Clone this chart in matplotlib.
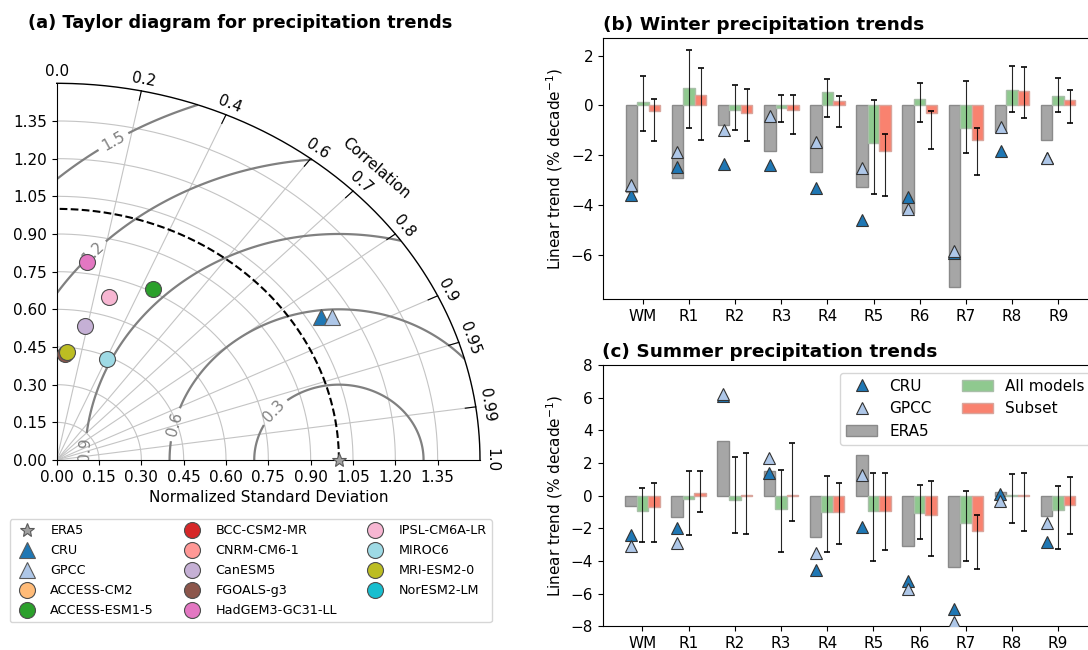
import numpy as np
import matplotlib.pyplot as plt

# ---------------- data ----------------
regions = ['WM', 'R1', 'R2', 'R3', 'R4', 'R5', 'R6', 'R7', 'R8', 'R9']

# winter trends (% per decade)
win_era5 = [-3.47, -2.93, -0.80, -1.82, -2.67, -3.29, -4.34, -7.32, -1.08, -1.39]
win_all = [0.13, 0.68, -0.20, -0.10, 0.52, -1.50, 0.24, -0.90, 0.61, 0.37]
win_sub = [-0.23, 0.41, -0.32, -0.20, 0.17, -1.84, -0.32, -1.41, 0.59, 0.20]
win_all_lo = [-1.03, -0.92, -0.99, -0.66, -0.48, -3.57, -0.68, -1.90, -0.27, -0.28]
win_all_hi = [1.20, 2.22, 0.82, 0.41, 1.08, 0.21, 0.91, 0.99, 1.59, 1.12]
win_sub_lo = [-1.42, -1.39, -1.43, -1.16, -0.87, -3.64, -1.74, -2.81, -0.50, -0.72]
win_sub_hi = [0.27, 1.50, 0.65, 0.41, 0.37, -1.16, -0.23, -0.92, 1.55, 0.61]
win_cru = [-3.60, -2.49, -2.36, -2.40, -3.33, -4.61, -3.69, -5.94, -1.84, -2.13]
win_gpcc = [-3.20, -1.86, -0.99, -0.43, -1.46, -2.53, -4.18, -5.84, -0.88, -2.13]

# summer trends (% per decade)
sum_era5 = [-0.66, -1.31, 3.34, 1.50, -2.56, 2.48, -3.09, -4.34, 0.23, -1.27]
sum_all = [-0.92, -0.20, -0.27, -0.80, -1.00, -0.96, -1.07, -1.70, 0.02, -0.86]
sum_sub = [-0.72, 0.17, 0.02, 0.02, -1.02, -0.96, -1.17, -2.17, 0.02, -0.55]
sum_all_lo = [-2.85, -2.40, -2.26, -3.42, -3.46, -4.03, -2.66, -3.99, -1.70, -3.28]
sum_all_hi = [0.45, 1.48, 2.34, 1.60, 1.23, 1.40, 0.66, 0.31, 1.35, 0.57]
sum_sub_lo = [-2.81, -1.00, -2.36, -1.54, -2.97, -3.32, -3.67, -4.48, -2.19, -2.32]
sum_sub_hi = [0.78, 1.52, 2.60, 3.22, 0.78, 1.40, 0.88, -1.17, 1.37, 1.17]
sum_cru = [-2.40, -1.99, 6.10, 1.39, -4.54, -1.95, -5.20, -6.96, 0.12, -2.81]
sum_gpcc = [-3.06, -2.91, 6.25, 2.29, -3.52, 1.29, -5.73, -7.72, -0.35, -1.68]

# Taylor diagram: normalized std and correlation
ref_std = 1.0
obs_names = ['CRU', 'GPCC']
obs_std = [1.097, 1.131]
obs_corr = [0.854, 0.863]
obs_colors = ['#1f77b4', '#aec7e8']

nan = np.nan
model_names = ['ACCESS-CM2', 'ACCESS-ESM1-5', 'BCC-CSM2-MR', 'CNRM-CM6-1', 'CanESM5',
               'FGOALS-g3', 'HadGEM3-GC31-LL', 'IPSL-CM6A-LR', 'MIROC6', 'MRI-ESM2-0',
               'NorESM2-LM']
model_std = [nan, 0.761, nan, nan, 0.543, 0.424, 0.797, 0.677, 0.438, 0.433, nan]
model_corr = [nan, 0.449, nan, nan, 0.184, 0.071, 0.133, 0.275, 0.404, 0.082, nan]
model_colors = ['#ffbb78', '#2ca02c', '#d62728', '#ff9896', '#c5b0d5', '#8c564b',
                '#e377c2', '#f7b6d2', '#9edae5', '#bcbd22', '#17becf']

corr_ticks = [0.0, 0.2, 0.4, 0.6, 0.7, 0.8, 0.9, 0.95, 0.99, 1.0]
rms_levels = [0.3, 0.6, 0.9, 1.2, 1.5]
rms_label_pos = [(0.765, 0.20), (0.422, 0.14), (0.093, 0.04), (0.125, 0.83), (0.20, 1.27)]

# ---------------- figure ----------------
W, H = 1088, 650
fig = plt.figure(figsize=(W / 100, H / 100), dpi=100)


def px_axes(left, top, right, bottom):
    return fig.add_axes([left / W, 1 - bottom / H, (right - left) / W, (bottom - top) / H])


# ---- (a) Taylor diagram ----
ax = px_axes(56.7, 83.3, 480, 460)
smax = 1.5
ax.set_xlim(0, smax)
ax.set_ylim(0, smax)
ax.spines[['top', 'right']].set_visible(False)
std_ticks = np.arange(0, 1.4, 0.15)
ax.set_xticks(std_ticks)
ax.set_yticks(std_ticks)
ax.xaxis.set_major_formatter('{x:.2f}')
ax.yaxis.set_major_formatter('{x:.2f}')
ax.tick_params(labelsize=11)
ax.set_xlabel('Normalized Standard Deviation', fontsize=11)

th = np.linspace(0, np.pi / 2, 300)
for r in std_ticks[1:]:
    ax.plot(r * np.cos(th), r * np.sin(th), color='#c4c4c4', lw=0.8, zorder=0)
for c in corr_ticks[1:-1]:
    t = np.arccos(c)
    ax.plot([0, smax * np.cos(t)], [0, smax * np.sin(t)], color='#c4c4c4', lw=0.8, zorder=0)
ax.plot(smax * np.cos(th), smax * np.sin(th), color='k', lw=1.0, clip_on=False)

# pixel scale of the data units (for tangent label rotation)
a_px = (480 - 56.7) / smax
b_px = (460 - 83.3) / smax
for c in corr_ticks:
    t = np.arccos(c)
    x0, y0 = smax * np.cos(t), smax * np.sin(t)
    if 0 < c < 1:
        ax.plot([x0, 0.975 * x0], [y0, 0.975 * y0], color='k', lw=0.8)
    ang = np.degrees(np.arctan2(np.sin(t) / b_px, np.cos(t) / a_px))
    ax.annotate(f'{c:g}' if c not in (0.0, 1.0) else f'{c:.1f}', xy=(x0, y0),
                xytext=(8.5 * np.cos(np.radians(ang)), 8.5 * np.sin(np.radians(ang))),
                textcoords='offset points', rotation=ang - 90, ha='center', va='center',
                rotation_mode='anchor', fontsize=11, annotation_clip=False)
ax.text(1.133, 1.163, 'Correlation', rotation=-41, ha='center', va='center', fontsize=11)

rs, ts = np.meshgrid(np.linspace(0, smax, 300), np.linspace(0, np.pi / 2, 300))
rms = np.sqrt(ref_std ** 2 + rs ** 2 - 2 * ref_std * rs * np.cos(ts))
cs = ax.contour(rs * np.cos(ts), rs * np.sin(ts), rms, levels=rms_levels,
                colors='0.5', linewidths=1.6, zorder=1)
ax.clabel(cs, inline=True, fontsize=11, fmt='%.1f', manual=rms_label_pos)

ax.plot(ref_std * np.cos(th), ref_std * np.sin(th), 'k--', lw=1.5, zorder=2)

handles = []
h, = ax.plot(ref_std, 0, '*', ms=10, color='#a0a0a0', mec='0.35', mew=0.8,
             clip_on=False, zorder=6, label='ERA5')
handles.append(h)
for name, s, c, col in zip(obs_names, obs_std, obs_corr, obs_colors):
    t = np.arccos(c)
    h, = ax.plot(s * np.cos(t), s * np.sin(t), '^', ms=11.5, color=col, mec='0.35',
                 mew=0.8, ls='none', zorder=5, label=name)
    handles.append(h)
for name, s, c, col in zip(model_names, model_std, model_corr, model_colors):
    t = np.arccos(c)
    h, = ax.plot(s * np.cos(t), s * np.sin(t), 'o', ms=11.5, color=col, mec='0.3',
                 mew=0.8, ls='none', zorder=5, label=name)
    handles.append(h)

fig.text(28 / W, 1 - 23 / H, '(a) Taylor diagram for precipitation trends',
         fontsize=12.8, fontweight='bold', va='center', ha='left')
fig.legend(handles=handles, loc='upper left', bbox_to_anchor=(9.5 / W, 1 - 519 / H),
           ncol=3, fontsize=9.2, borderaxespad=0, labelspacing=0.55, columnspacing=2.0)

# ---- (b), (c) bar panels ----
axb = px_axes(603, 38.3, 1098, 299.3)
axc = px_axes(602.5, 365, 1098, 626.3)

panels = [
    (axb, '(b) Winter precipitation trends', win_era5, win_all, win_sub,
     win_all_lo, win_all_hi, win_sub_lo, win_sub_hi, win_cru, win_gpcc),
    (axc, '(c) Summer precipitation trends', sum_era5, sum_all, sum_sub,
     sum_all_lo, sum_all_hi, sum_sub_lo, sum_sub_hi, sum_cru, sum_gpcc),
]

x = np.arange(len(regions))
w = 0.25
for (axp, title, era5, allm, sub, alo, ahi, slo, shi, cru, gpcc) in panels:
    alo, ahi, slo, shi = map(np.array, (alo, ahi, slo, shi))
    b1 = axp.bar(x - w, era5, w, color='#a6a6a6', edgecolor='#8a8a8a', lw=1, label='ERA5', zorder=2)
    b2 = axp.bar(x, allm, w, color='#8fc98f', edgecolor='#a9bfa9', lw=1, label='All models', zorder=2)
    b3 = axp.bar(x + w, sub, w, color='#f9826f', edgecolor='#d9a59c', lw=1, label='Subset', zorder=2)
    axp.errorbar(x, (alo + ahi) / 2, yerr=(ahi - alo) / 2, fmt='none', ecolor='k',
                 elinewidth=0.8, capsize=2.5, capthick=1.4, alpha=0.85, zorder=3)
    axp.errorbar(x + w, (slo + shi) / 2, yerr=(shi - slo) / 2, fmt='none', ecolor='k',
                 elinewidth=0.8, capsize=2.5, capthick=1.4, alpha=0.85, zorder=3)
    t1, = axp.plot(x - w, cru, '^', ms=8.5, color='#1f77b4', mec='0.2', mew=0.8,
                   ls='none', label='CRU', zorder=4)
    t2, = axp.plot(x - w, gpcc, '^', ms=8.5, color='#aec7e8', mec='0.2', mew=0.8,
                   ls='none', label='GPCC', zorder=4)
    axp.set_xticks(x)
    axp.set_xticklabels(regions)
    axp.tick_params(labelsize=11)
    axp.set_ylabel('Linear trend (% decade$^{-1}$)', fontsize=11)
    axp.set_title(title, loc='left', fontsize=13.3, fontweight='bold')
    axp.set_xlim(-0.8625, 9.8625)

axc.set_ylim(-8, 8)
axc.set_yticks(np.arange(-8, 9, 2))
axc.legend(handles=[t1, t2, b1, b2, b3], ncol=2, loc='upper right', fontsize=11)

fig.savefig('out.png', dpi=100)
